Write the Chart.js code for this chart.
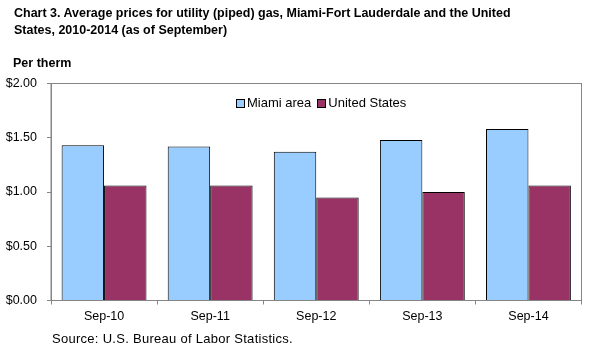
<!DOCTYPE html>
<html>
<head>
<meta charset="utf-8">
<script src="https://cdn.jsdelivr.net/npm/chart.js@4"></script>
<style>
  html, body { margin: 0; padding: 0; background: #fff; }
  #wrap { position: relative; width: 612px; height: 355px; overflow: hidden; font-family: "Liberation Sans", Arial, sans-serif; color: #000; }
  #c { position: absolute; left: 0; top: 0; }
  #title { position: absolute; left: 14px; top: 5px; font-weight: bold; font-size: 13.5px; line-height: 16.5px; white-space: nowrap; transform: scaleX(0.925); transform-origin: 0 0; }
  #unit { position: absolute; left: 13px; top: 56px; font-weight: bold; font-size: 12.5px; white-space: nowrap; }
  #source { position: absolute; left: 52px; top: 331px; font-size: 13px; letter-spacing: 0.28px; white-space: nowrap; }
  #legend { position: absolute; left: 236px; top: 95px; font-size: 13px; white-space: nowrap; display: flex; align-items: center; }
  .item { display: flex; align-items: center; margin-right: 6px; }
  .box { width: 7px; height: 7px; border: 1px solid #000; margin-right: 2px; margin-top: 1px; }
</style>
</head>
<body>
<div id="wrap">
  <canvas id="c" width="612" height="355"></canvas>
  <div id="title">Chart 3. Average prices for utility (piped) gas, Miami-Fort Lauderdale and the United<br>States, 2010-2014 (as of September)</div>
  <div id="unit">Per therm</div>
  <div id="legend"></div>
  <div id="source">Source: U.S. Bureau of Labor Statistics.</div>
</div>
<script>
const categories = ["Sep-10", "Sep-11", "Sep-12", "Sep-13", "Sep-14"];
const seriesNames = ["Miami area", "United States"];
const miamiValues = [1.43, 1.42, 1.37, 1.48, 1.58];
const usValues = [1.06, 1.06, 0.95, 1.00, 1.06];
const yTicks = [0, 0.5, 1.0, 1.5, 2.0];

const colors = ["#99CCFF", "#993366"];
const axisGray = "#868686";

const borderPlugin = {
  id: "plotBorder",
  beforeDatasetsDraw(chart) {
    const a = chart.chartArea, ctx = chart.ctx;
    ctx.save();
    ctx.strokeStyle = axisGray;
    ctx.lineWidth = 1;
    ctx.strokeRect(a.left, a.top, a.right - a.left, a.bottom - a.top);
    ctx.restore();
  }
};

const chart = new Chart(document.getElementById("c"), {
  type: "bar",
  data: {
    labels: categories,
    datasets: [
      { label: seriesNames[0], data: miamiValues, backgroundColor: colors[0], borderColor: "#000", borderWidth: 1 },
      { label: seriesNames[1], data: usValues, backgroundColor: colors[1], borderColor: "#000", borderWidth: 1 }
    ]
  },
  options: {
    responsive: false,
    animation: false,
    devicePixelRatio: 1,
    layout: { padding: { top: 83.5, right: 30.5, left: 0, bottom: 0 } },
    datasets: { bar: { categoryPercentage: 0.8, barPercentage: 1.0 } },
    plugins: {
      legend: { display: false },
      title: { display: false },
      tooltip: { enabled: false }
    },
    scales: {
      x: {
        afterFit(s) { s.height = 54.5; },
        border: { color: axisGray, width: 1 },
        grid: { offset: true, drawOnChartArea: false, drawTicks: true, tickLength: 4, color: axisGray },
        ticks: { color: "#000", font: { family: "'Liberation Sans', Arial, sans-serif", size: 12.5 }, padding: 5, maxRotation: 0 }
      },
      y: {
        min: 0, max: 2,
        afterFit(s) { s.width = 51; },
        afterBuildTicks(s) { s.ticks = yTicks.map(v => ({ value: v })); },
        border: { color: axisGray, width: 1 },
        grid: { drawOnChartArea: false, drawTicks: true, tickLength: 4, color: axisGray },
        ticks: {
          color: "#000",
          font: { family: "'Liberation Sans', Arial, sans-serif", size: 12.5 },
          padding: 10,
          callback: v => "$" + Number(v).toFixed(2)
        }
      }
    }
  },
  plugins: [borderPlugin]
});

const legendEl = document.getElementById("legend");
chart.data.datasets.forEach(ds => {
  const item = document.createElement("div");
  item.className = "item";
  const box = document.createElement("div");
  box.className = "box";
  box.style.background = ds.backgroundColor;
  const txt = document.createElement("span");
  txt.textContent = ds.label;
  item.appendChild(box);
  item.appendChild(txt);
  legendEl.appendChild(item);
});
</script>
</body>
</html>
